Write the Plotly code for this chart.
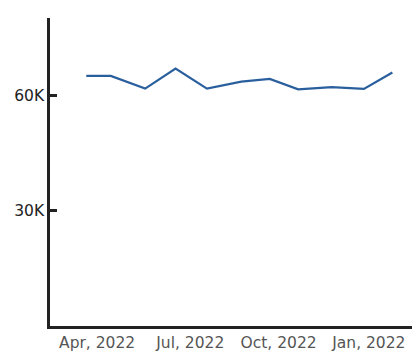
import plotly.graph_objects as go

dates = ["2022-03-21", "2022-04-15", "2022-05-20", "2022-06-20", "2022-07-22",
         "2022-08-26", "2022-09-24", "2022-10-23", "2022-11-26", "2022-12-29",
         "2023-01-27"]
values = [65200, 65200, 61900, 67100, 61900, 63700, 64400, 61700, 62300, 61800, 66100]

x_tickvals = ["2022-04-01", "2022-07-05", "2022-10-03", "2023-01-03"]
x_ticktext = ["Apr, 2022", "Jul, 2022", "Oct, 2022", "Jan, 2022"]
y_tickvals = [30000, 60000]
y_ticktext = ["30K", "60K"]

fig = go.Figure(go.Scatter(x=dates, y=values, mode="lines",
                           line=dict(color="#2a5f9e", width=2.2)))

fig.update_layout(
    width=412, height=356,
    margin=dict(l=50, r=0, t=18, b=30, autoexpand=False),
    paper_bgcolor="white", plot_bgcolor="white",
    showlegend=False,
    font=dict(family="DejaVu Sans, sans-serif", size=15.5, color="#3a3a3a"),
)
fig.update_xaxes(
    type="date", range=["2022-02-12", "2023-02-16"],
    tickvals=x_tickvals, ticktext=x_ticktext,
    tickfont=dict(color="#555", size=15.5),
    showgrid=False, zeroline=False,
    showline=True, linecolor="#222", linewidth=3,
    ticks="", ticklen=0,
)
fig.update_yaxes(
    range=[0, 80300],
    tickvals=y_tickvals, ticktext=y_ticktext,
    tickfont=dict(color="#222", size=15.5),
    showgrid=False, zeroline=False,
    showline=True, linecolor="#222", linewidth=2.5,
    ticks="inside", ticklen=7, tickwidth=2.5, tickcolor="#222",
)
fig.write_html(
    "out.html",
    config={"displayModeBar": False},
    post_script="document.body.style.margin='0';document.body.style.overflow='hidden';",
)
